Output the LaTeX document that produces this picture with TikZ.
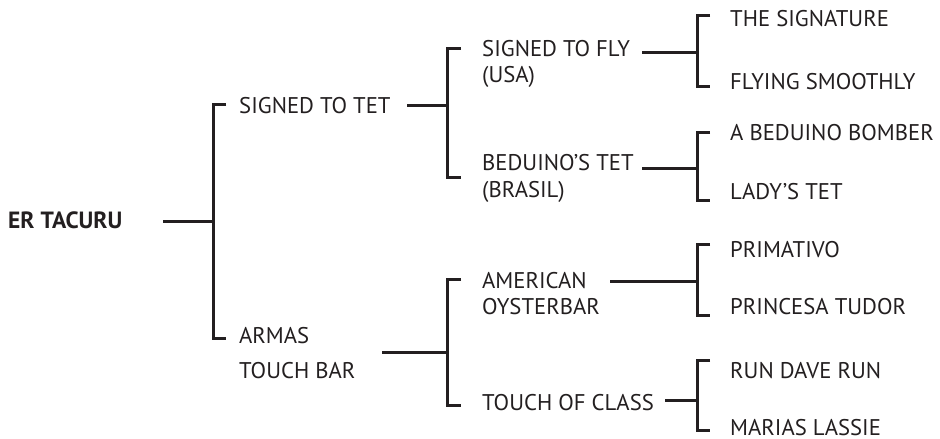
\documentclass[tikz,border=0pt]{standalone}
\usepackage{fontspec}
\setmainfont{PT Sans}
\definecolor{ink}{HTML}{231F20}
\tikzset{
  lbl/.style={anchor=base west, inner sep=0pt, text depth=0pt, text=ink, font=\fontsize{22.7}{27}\selectfont},
  rootlbl/.style={lbl, font=\fontsize{23.5}{28}\selectfont\bfseries},
  conn/.style={draw=ink, line width=3pt, line cap=butt, line join=miter}
}
\begin{document}
\begin{tikzpicture}[x=1pt,y=-1pt]
\useasboundingbox (0,0) rectangle (940,439);
% labels
\node[rootlbl] (er) at (8,228) {ER TACURU};
\node[lbl] (stt) at (239,113) {SIGNED TO TET};
\node[lbl] (arm) at (239,343) {ARMAS};
\node[lbl] (tb) at (239,378) {TOUCH BAR};
\node[lbl] (stf) at (482,56.5) {SIGNED TO FLY};
\node[lbl] (usa) at (482,82) {(USA)};
\node[lbl] (bt) at (482,170) {BEDUINO’S TET};
\node[lbl] (bra) at (482,197) {(BRASIL)};
\node[lbl] (am) at (482,288) {AMERICAN};
\node[lbl] (oy) at (482,314) {OYSTERBAR};
\node[lbl] (toc) at (482,410) {TOUCH OF CLASS};
\node[lbl] (ts) at (730,26.5) {THE SIGNATURE};
\node[lbl] (fs) at (730,89) {FLYING SMOOTHLY};
\node[lbl] (abb) at (730,140) {A BEDUINO BOMBER};
\node[lbl] (lt) at (730,199) {LADY’S TET};
\node[lbl] (pr) at (730,257) {PRIMATIVO};
\node[lbl] (pt) at (730,314) {PRINCESA TUDOR};
\node[lbl] (rdr) at (730,378) {RUN DAVE RUN};
\node[lbl] (ml) at (730,435.5) {MARIAS LASSIE};
% bracket 0
\coordinate (f0) at (163,221); \coordinate (j0) at (213,221);
\coordinate (t0) at (226,104); \coordinate (u0) at (226,338);
\draw[conn] (f0) -- (j0);
\draw[conn] (t0) -| (j0) |- (u0);
% bracket 1
\coordinate (f1) at (407,105); \coordinate (j1) at (447,105);
\coordinate (t1) at (461,48); \coordinate (u1) at (461,177);
\draw[conn] (f1) -- (j1);
\draw[conn] (t1) -| (j1) |- (u1);
% bracket 2
\coordinate (f2) at (382,352); \coordinate (j2) at (447,352);
\coordinate (t2) at (461,279); \coordinate (u2) at (461,405);
\draw[conn] (f2) -- (j2);
\draw[conn] (t2) -| (j2) |- (u2);
% bracket 3
\coordinate (f3) at (642,52); \coordinate (j3) at (697,52);
\coordinate (t3) at (710,15); \coordinate (u3) at (710,86);
\draw[conn] (f3) -- (j3);
\draw[conn] (t3) -| (j3) |- (u3);
% bracket 4
\coordinate (f4) at (642,168); \coordinate (j4) at (697,168);
\coordinate (t4) at (710,132); \coordinate (u4) at (710,200);
\draw[conn] (f4) -- (j4);
\draw[conn] (t4) -| (j4) |- (u4);
% bracket 5
\coordinate (f5) at (610,281); \coordinate (j5) at (697,281);
\coordinate (t5) at (710,244); \coordinate (u5) at (710,315);
\draw[conn] (f5) -- (j5);
\draw[conn] (t5) -| (j5) |- (u5);
% bracket 6
\coordinate (f6) at (665,400); \coordinate (j6) at (697,400);
\coordinate (t6) at (710,360); \coordinate (u6) at (710,430);
\draw[conn] (f6) -- (j6);
\draw[conn] (t6) -| (j6) |- (u6);
\end{tikzpicture}
\end{document}
